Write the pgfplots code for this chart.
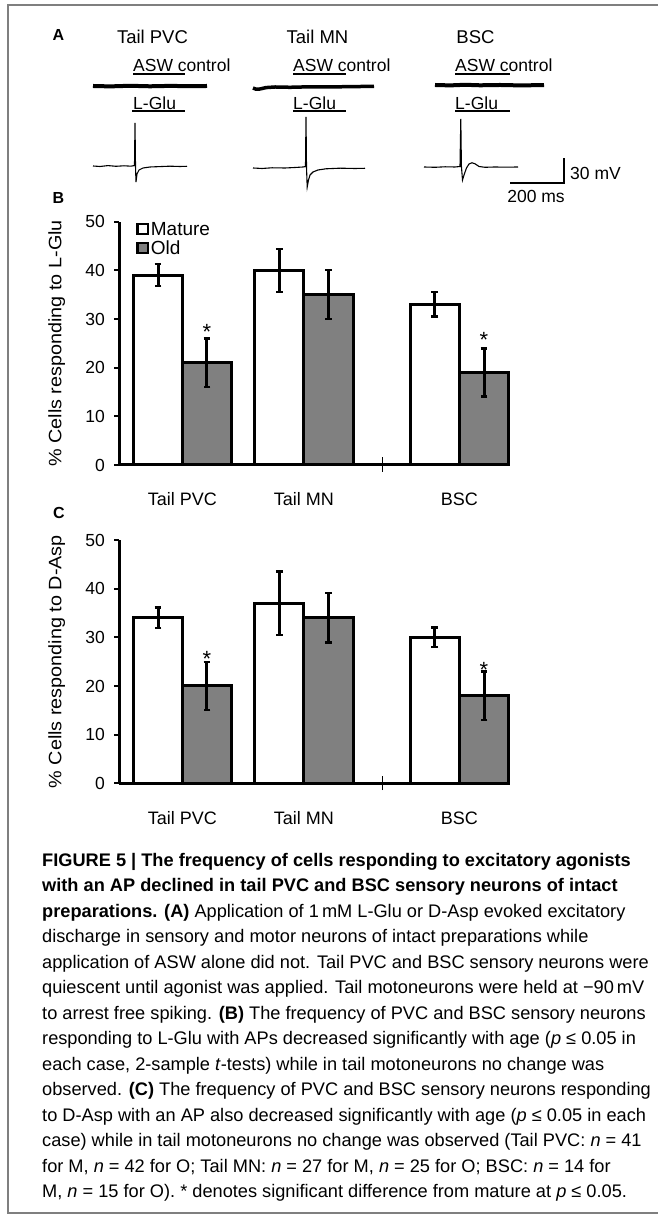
\documentclass[border=0pt]{standalone}
\usepackage{fontspec}
\setmainfont{Liberation Sans}
\usepackage{pgfplots}
\pgfplotsset{compat=1.18}

\definecolor{oldgray}{HTML}{808080}
\definecolor{framegray}{HTML}{7F7F7F}

\pgfplotsset{
  barpanel/.style={
    scale only axis, width=389.3pt, height=243.3pt,
    xmin=0, xmax=389.3, ymin=0, ymax=50,
    enlargelimits=false,
    axis x line=bottom, axis y line=left,
    axis line style={-, line width=3pt},
    clip=false,
    ytick={0,10,...,50},
    tick align=outside, major tick length=5pt,
    y tick style={black, line width=2.2pt},
    x tick style={draw=none},
    xtick={63.15,184.55,340.05},
    xticklabels={Tail PVC, Tail MN, BSC},
    /pgf/number format/assume math mode=true,
    yticklabel style={font=\fontsize{17.5}{19}\selectfont, xshift=-6pt},
    xticklabel style={font=\fontsize{18}{20}\selectfont, anchor=base, yshift=-36pt},
    every axis y label/.style={at={(axis description cs:-0.161,0.5)}, anchor=center,
      rotate=90, xscale=1.1, font=\fontsize{18}{20}\selectfont},
    legend style={at={(axis cs:17,50.4)}, anchor=north west, draw=none, fill=none,
      inner sep=0pt, row sep=0pt, font=\fontsize{19}{21}\selectfont,
      cells={anchor=west}},
  },
  agebar/.style={ybar, bar width=49.3, bar shift=0pt, draw=black, line width=3pt,
    error bars/y dir=both, error bars/y explicit,
    error bars/error bar style={line width=3pt, black},
    error bars/error mark options={rotate=90, line width=2.4pt, mark size=3.4pt, black}},
}

\begin{document}
\begin{tikzpicture}[x=1pt,y=1pt]
\useasboundingbox (0,0) rectangle (657,1219);
\draw[framegray, line width=1.5pt] (670,1214) -- (8,1214) -- (8,6) -- (670,6);

% panel A: recordings, drawn in pixel coordinates
\begin{axis}[at={(0pt,1009pt)}, anchor=south west, scale only axis,
  width=657pt, height=210pt, xmin=0, xmax=657, ymin=-210, ymax=0,
  hide axis, clip=false]
% ASW control traces
\addplot[black, line width=4pt] coordinates {(93,-86) (110,-86.4) (130,-85.8) (150,-86.3) (170,-85.9) (190,-86.2) (207,-86)};
\addplot[black, line width=3.5pt] coordinates {(253,-88) (256,-89.2) (260,-89) (266,-87.6) (275,-87) (290,-87.3) (310,-86.8) (330,-87) (350,-86.6) (374,-86.4)};
\addplot[black, line width=4pt] coordinates {(435,-85) (450,-85.4) (465,-84.8) (480,-85.3) (500,-85) (520,-85.4) (544,-85.1)};
% application bars
\addplot[black, line width=1.8pt] coordinates {(133,-74) (185,-74)};
\addplot[black, line width=1.8pt] coordinates {(293,-74) (346,-74)};
\addplot[black, line width=1.8pt] coordinates {(455,-74) (510,-74)};
\addplot[black, line width=1.8pt] coordinates {(132,-111) (185,-111)};
\addplot[black, line width=1.8pt] coordinates {(293,-111) (346,-111)};
\addplot[black, line width=1.8pt] coordinates {(455,-111) (510,-111)};
% L-Glu traces
\addplot[black, line width=1.1pt] coordinates {(93,-166) (100,-166.5) (108,-165.6) (116,-166.3) (124,-165.8) (131,-166.2) (134.5,-165.5) (135,-123) (135.5,-166) (136,-182) (137,-174) (139,-170) (143,-168) (150,-167) (160,-166.6) (170,-166.2) (180,-166.5) (187,-166.3)};
\addplot[black, line width=1.1pt] coordinates {(253,-168) (262,-168.5) (272,-167.8) (285,-168) (295,-167.5) (303,-167) (305.5,-166.5) (306,-117) (306.5,-167) (307.2,-187) (308.5,-180) (310,-175) (313,-172) (318,-170) (326,-168.8) (340,-168.2) (355,-168.5) (365,-168.3)};
\addplot[black, line width=1.1pt] coordinates {(424,-167) (435,-167.3) (445,-166.8) (455,-167) (460,-166.5) (460.8,-119) (461.4,-166) (462.5,-180) (464,-175) (466.5,-168) (469,-164) (472,-162.8) (475,-163.8) (479,-166.5) (485,-167.3) (495,-167) (505,-167.2) (518,-167)};
% scale bar
\addplot[black, line width=1.6pt] coordinates {(510,-183) (564,-183) (564,-158)};
\end{axis}

\node[font=\bfseries\fontsize{16}{18}\selectfont] at (58.5,1184) {A};
\node[font=\fontsize{18.5}{20}\selectfont] at (152.5,1182) {Tail PVC};
\node[font=\fontsize{18.5}{20}\selectfont] at (317.5,1182) {Tail MN};
\node[font=\fontsize{18.5}{20}\selectfont] at (475.5,1182) {BSC};
\foreach \x in {133,293,455} {
  \node[font=\fontsize{17.5}{20}\selectfont, anchor=west, inner sep=0pt] at (\x,1154) {ASW control};
  \node[font=\fontsize{17.5}{20}\selectfont, anchor=west, inner sep=0pt] at (\x,1116) {L-Glu};
}
\node[font=\fontsize{17.5}{20}\selectfont, anchor=west, inner sep=0pt] at (570,1046) {30 mV};
\node[font=\fontsize{17.5}{20}\selectfont] at (536,1023) {200 ms};
\node[font=\bfseries\fontsize{16}{18}\selectfont] at (58.5,1021) {B};
\node[font=\bfseries\fontsize{16}{18}\selectfont] at (59,706) {C};

% panel B
\begin{axis}[barpanel, at={(119.3pt,754pt)}, anchor=south west,
  ylabel={\% Cells responding to L-Glu}]
\addplot[agebar, fill=white, legend image code/.code={\draw[fill=white, draw=black, line width=2.4pt] (0pt,-5pt) rectangle (10pt,5pt);}]
  coordinates {(38.7,39) +- (0,2.25) (159.9,40) +- (0,4.4) (315.4,33) +- (0,2.5)};
\addlegendentry{Mature}
\addplot[agebar, fill=oldgray, legend image code/.code={\draw[fill=oldgray, draw=black, line width=2.4pt] (0pt,-5pt) rectangle (10pt,5pt);}]
  coordinates {(87.6,21) +- (0,5) (209.2,35) +- (0,5.05) (364.7,19) +- (0,4.95)};
\addlegendentry{Old}
\addplot[black, line width=1.5pt, forget plot] coordinates {(263.4,-1.4) (263.4,1.6)};
\node[font=\fontsize{22}{24}\selectfont, anchor=base] at (axis cs:87.6,25.8) {*};
\node[font=\fontsize{22}{24}\selectfont, anchor=base] at (axis cs:364.7,24.1) {*};
\end{axis}

% panel C
\begin{axis}[barpanel, at={(119.3pt,435.7pt)}, anchor=south west,
  ylabel={\% Cells responding to D-Asp}]
\addplot[agebar, fill=white] coordinates {(38.7,34) +- (0,2.1) (159.9,37) +- (0,6.5) (315.4,30) +- (0,2.0)};
\addplot[agebar, fill=oldgray] coordinates {(87.6,20) +- (0,4.95) (209.2,34) +- (0,5.1) (364.7,18) +- (0,4.95)};
\addplot[black, line width=1.5pt, forget plot] coordinates {(263.4,-1.4) (263.4,1.6)};
\node[font=\fontsize{22}{24}\selectfont, anchor=base] at (axis cs:87.6,24.1) {*};
\node[font=\fontsize{22}{24}\selectfont, anchor=base] at (axis cs:364.7,21.7) {*};
\end{axis}

% caption
\node[anchor=north west, inner sep=0pt, align=left, font=\fontsize{18.2}{25.5}\selectfont] at (42,366) {%
\textbf{FIGURE 5 | The frequency of cells responding to excitatory agonists}\\
\textbf{with an AP declined in tail PVC and BSC sensory neurons of intact}\\
\textbf{preparations. (A)} Application of 1\,mM L-Glu or D-Asp evoked excitatory\\
discharge in sensory and motor neurons of intact preparations while\\
application of ASW alone did not. Tail PVC and BSC sensory neurons were\\
quiescent until agonist was applied. Tail motoneurons were held at −90\,mV\\
to arrest free spiking. \textbf{(B)} The frequency of PVC and BSC sensory neurons\\
responding to L-Glu with APs decreased significantly with age (\textit{p} ≤ 0.05 in\\
each case, 2-sample \textit{t}-tests) while in tail motoneurons no change was\\
observed. \textbf{(C)} The frequency of PVC and BSC sensory neurons responding\\
to D-Asp with an AP also decreased significantly with age (\textit{p} ≤ 0.05 in each\\
case) while in tail motoneurons no change was observed (Tail PVC: \textit{n} = 41\\
for M, \textit{n} = 42 for O; Tail MN: \textit{n} = 27 for M, \textit{n} = 25 for O; BSC: \textit{n} = 14 for\\
M, \textit{n} = 15 for O). * denotes significant difference from mature at \textit{p} ≤ 0.05.};
\end{tikzpicture}
\end{document}
